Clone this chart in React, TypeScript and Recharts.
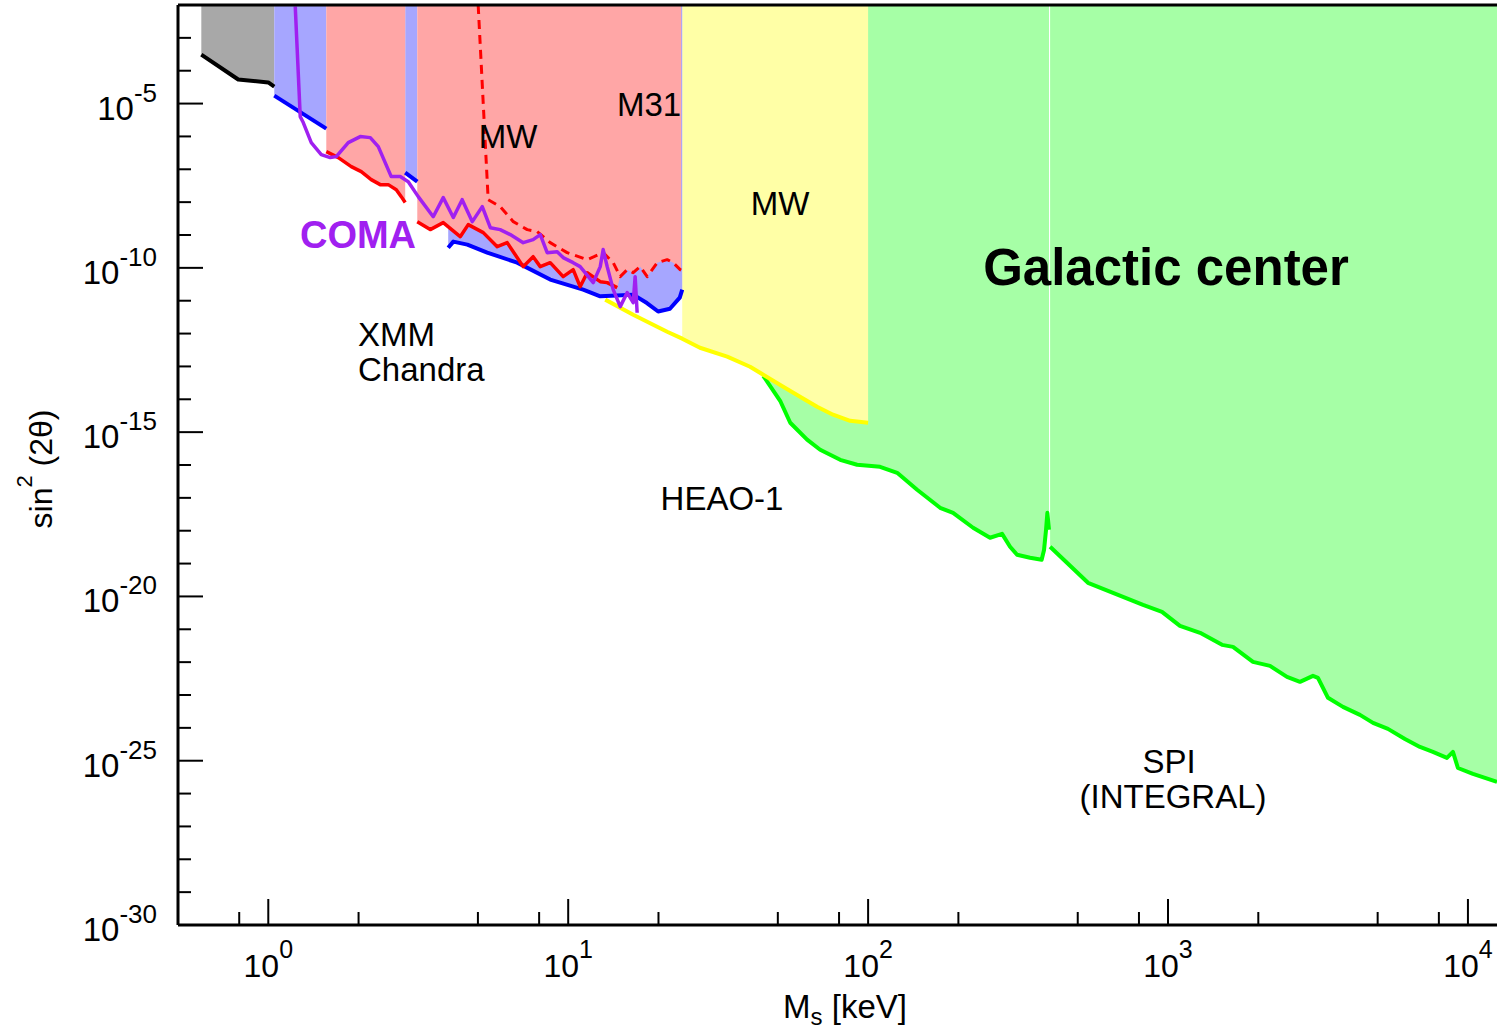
import React from 'react';
import { ComposedChart, Area, Line, XAxis, YAxis, ReferenceLine } from 'recharts';

const TOP = 1e-2;
const BOTTOM = 1e-30;
const X_MIN = 0.5;
const X_MAX = 12500;

const xTicks = [0.8, 1, 2, 5, 8, 10, 20, 50, 80, 100, 200, 500, 800, 1000, 2000, 5000, 8000, 10000];
const yTicks = [
  1e-30, 1e-29, 1e-28, 1e-27, 1e-26, 1e-25, 1e-24, 1e-23, 1e-22, 1e-21, 1e-20,
  1e-19, 1e-18, 1e-17, 1e-16, 1e-15, 1e-14, 1e-13, 1e-12, 1e-11, 1e-10,
  1e-9, 1e-8, 1e-7, 1e-6, 1e-5, 1e-4, 1e-3,
];

// boundary curves: [M_s in keV, sin^2(2theta)]
const blackEdge = [[0.598, 3.1e-4], [0.794, 5.4e-5], [1.0, 4.4e-5], [1.047, 3.3e-5]];
const blueEdge1 = [[1.047, 1.75e-5], [1.561, 1.73e-6]];
const redEdge1 = [
  [1.561, 3.45e-7], [1.712, 2.27e-7], [1.891, 1.21e-7], [2.042, 8.5e-8], [2.204, 4.85e-8],
  [2.362, 3.41e-8], [2.512, 3.41e-8], [2.672, 2.4e-8], [2.776, 1.47e-8], [2.861, 9.7e-9],
];
const blueEdge2 = [[2.861, 7.9e-8], [3.139, 4.2e-8]];
const redEdge2 = [
  [3.139, 2.55e-9], [3.467, 1.46e-9], [3.831, 2.38e-9], [4.365, 8.9e-10], [4.642, 2.07e-9],
  [5.21, 1.18e-9], [5.8, 4.42e-10], [6.26, 5.85e-10], [7.08, 1.09e-10], [7.64, 2.19e-10],
  [8.07, 1.09e-10], [8.71, 1.44e-10], [9.62, 5.4e-11], [10.39, 8.8e-11], [10.96, 2.67e-11],
  [11.57, 7.1e-11], [12.79, 3.8e-11], [13.49, 3.55e-11], [14.57, 2.5e-11],
];
const redDashed = [
  [5.01, 1e-2], [5.41, 1.19e-8], [5.93, 7.3e-9], [6.56, 2.55e-9], [7.3, 1.46e-9], [7.88, 1.27e-9],
  [8.71, 5.85e-10], [9.92, 2.9e-10], [11.57, 1.78e-10], [13.08, 2.9e-10], [14.13, 1.44e-10],
  [14.91, 5.4e-11], [15.73, 8.8e-11], [16.47, 7.1e-11], [17.38, 1.09e-10], [18.34, 5.4e-11],
  [19.81, 1.44e-10], [21.38, 1.78e-10], [22.39, 1.44e-10], [23.62, 8.8e-11], [23.8, 8.5e-11],
];
const blueEdge3 = [
  [3.98, 4.1e-10], [4.14, 6.3e-10], [4.61, 5.1e-10], [5.37, 2.9e-10], [6.76, 1.44e-10],
  [8.71, 4.4e-11], [11.22, 2.17e-11], [12.79, 1.36e-11], [16.47, 1.53e-11], [18.3, 8.5e-12],
  [19.95, 4.7e-12], [21.84, 5.7e-12], [23.55, 1.24e-11], [24.0, 2.17e-11],
];
const comaLine = [
  [1.23, 9e-3], [1.278, 4.0e-6], [1.308, 2.64e-6], [1.391, 6.5e-7], [1.502, 2.8e-7], [1.609, 2.27e-7],
  [1.685, 2.43e-7], [1.848, 6.5e-7], [2.026, 9.9e-7], [2.188, 9.2e-7], [2.327, 4.9e-7], [2.57, 6.0e-8],
  [2.754, 6.0e-8], [2.929, 4.2e-8], [3.162, 1.47e-8], [3.548, 3.6e-9], [3.831, 1.37e-8], [4.14, 3.4e-9],
  [4.43, 1.19e-8], [4.79, 2.55e-9], [5.17, 7.3e-9], [5.5, 1.67e-9], [5.93, 1.46e-9], [6.41, 1.03e-9],
  [7.08, 5.85e-10], [7.64, 7.2e-10], [8.07, 1.03e-9], [8.51, 2.9e-10], [9.19, 3.1e-10], [9.62, 2.05e-10],
  [10.39, 1.44e-10], [10.96, 1.09e-10], [12.12, 3.55e-11], [12.79, 1.09e-10], [13.08, 3.6e-10],
  [13.49, 1.09e-10], [14.13, 2.17e-11], [14.91, 6.6e-12], [15.73, 1.76e-11], [16.47, 8.7e-12],
  [16.72, 5.4e-11], [16.98, 4.3e-12],
];
const yellowEdge = [
  [13.29, 1.08e-11], [16.47, 3.76e-12], [21.38, 1.14e-12], [24.0, 7.0e-13], [27.5, 3.7e-13],
  [33.9, 1.98e-13], [40.4, 9.8e-14], [44.7, 5.6e-14], [52.1, 2.41e-14], [59.3, 1.2e-14],
  [67.6, 5.9e-15], [76.4, 3.4e-15], [87.1, 2.22e-15], [100, 1.93e-15],
];
const greenEdge1 = [
  [44.7, 5.2e-14], [50.9, 9.0e-15], [55.0, 1.93e-15], [62.6, 5.9e-16], [69.2, 2.91e-16],
  [80.7, 1.44e-16], [91.9, 1.02e-16], [109.6, 8.8e-17], [125, 5.8e-17], [145.7, 1.76e-17],
  [173.8, 4.99e-18], [192, 3.5e-18], [223.9, 1.23e-18], [255, 6.1e-19], [279.7, 8.0e-19],
  [297.4, 3.24e-19], [313.8, 1.85e-19], [346.7, 1.5e-19], [379, 1.3e-19], [386, 2.6e-19],
  [392, 1.07e-18], [396, 3.5e-18], [401, 1.07e-18],
];
const greenEdge2 = [
  [404.4, 3.24e-19], [541, 2.6e-20], [825.4, 5.5e-21], [955, 3.4e-21], [1096, 1.27e-21],
  [1279, 7.8e-22], [1514, 3.36e-22], [1647, 2.92e-22], [1920, 1.02e-22], [2188, 7.7e-23],
  [2493, 3.56e-23], [2754, 2.51e-23], [3043, 3.82e-23], [3162, 3.32e-23], [3415, 8.2e-24],
  [3831, 4.35e-24], [4365, 2.48e-24], [4825, 1.42e-24], [5412, 9.3e-25], [6166, 4.6e-25],
  [6918, 2.63e-25], [7643, 1.85e-25], [8511, 1.22e-25], [8913, 1.85e-25], [9261, 6.0e-26],
  [10390, 3.96e-26], [12500, 2.26e-26],
];

const FONT = "'Liberation Sans', Arial, Helvetica, sans-serif";

const band = (pts: number[][]) => pts.map(([x, y]) => ({ x, band: [y, TOP] }));
const line = (pts: number[][]) => pts.map(([x, y]) => ({ x, y }));

const pinkEdge2 = [...redEdge2, ...redDashed.filter((p) => p[0] > 14.6)];
const yellowBandEdge = yellowEdge.filter((p) => p[0] >= 24.0);

const YTick = (props: any) => {
  const { x, y, payload } = props;
  const e = Math.round(Math.log10(payload.value));
  const major = e % 5 === 0;
  return (
    <g>
      <line x1={x} x2={x + (major ? 25 : 13)} y1={y} y2={y} stroke="#000" strokeWidth={2} />
      {major && (
        <text x={x - 21} y={y + 16} textAnchor="end" fontSize={33} fontFamily={FONT} fill="#000">
          10
          <tspan dy={-18} fontSize={26}>{String(e)}</tspan>
        </text>
      )}
    </g>
  );
};

const XTick = (props: any) => {
  const { x, y, payload } = props;
  const l = Math.log10(payload.value);
  const e = Math.round(l);
  const major = Math.abs(l - e) < 1e-6;
  return (
    <g>
      <line x1={x} x2={x} y1={y} y2={y - (major ? 26 : 13)} stroke="#000" strokeWidth={2} />
      {major && (
        <text x={x} y={y + 52} textAnchor="middle" fontSize={32} fontFamily={FONT} fill="#000">
          10
          <tspan dy={-19} fontSize={25}>{String(e)}</tspan>
        </text>
      )}
    </g>
  );
};

const Labels = () => (
  <svg
    width={1498}
    height={1032}
    style={{ position: 'absolute', left: 0, top: 0, pointerEvents: 'none', overflow: 'visible' }}
  >
    <g fontFamily={FONT} fill="#000">
      <text x={508} y={148} fontSize={33} textAnchor="middle">MW</text>
      <text x={649} y={116} fontSize={33} textAnchor="middle">M31</text>
      <text x={780} y={215} fontSize={33} textAnchor="middle">MW</text>
      <text x={358} y={346} fontSize={33}>XMM</text>
      <text x={358} y={381} fontSize={33}>Chandra</text>
      <text x={358} y={248} fontSize={38} fontWeight="bold" fill="#a020f0" textAnchor="middle">COMA</text>
      <text x={722} y={510} fontSize={33} textAnchor="middle">HEAO-1</text>
      <text x={1169} y={773} fontSize={33} textAnchor="middle">SPI</text>
      <text x={1173} y={808} fontSize={33} textAnchor="middle">(INTEGRAL)</text>
      <text x={1166} y={285} fontSize={51} fontWeight="bold" textAnchor="middle">Galactic center</text>
      <text x={845} y={1018} fontSize={33} textAnchor="middle">
        M<tspan dy={7} fontSize={24}>s</tspan><tspan dy={-7}> [keV]</tspan>
      </text>
      <text transform="translate(52,469) rotate(-90)" fontSize={32} textAnchor="middle">
        sin<tspan dy={-20} fontSize={22}>2</tspan><tspan dy={20}> (2θ)</tspan>
      </text>
    </g>
  </svg>
);

const areaProps = {
  type: 'linear' as const,
  dataKey: 'band',
  stroke: 'none',
  fillOpacity: 1,
  isAnimationActive: false,
  dot: false,
  activeDot: false,
};
const lineProps = {
  type: 'linear' as const,
  dataKey: 'y',
  dot: false,
  activeDot: false,
  isAnimationActive: false,
  strokeLinejoin: 'round' as const,
};

export default function App() {
  return (
    <div style={{ position: 'absolute', left: 0, top: 0, width: 1498, height: 1032, background: '#fff' }}>
      <ComposedChart width={1498} height={1032} margin={{ top: 5, right: 1, bottom: 0, left: 0 }}>
        <XAxis
          dataKey="x"
          type="number"
          scale="log"
          domain={[X_MIN, X_MAX]}
          ticks={xTicks}
          interval={0}
          tick={(p: any) => <XTick {...p} />}
          tickLine={false}
          tickSize={0}
          tickMargin={0}
          axisLine={{ stroke: '#000', strokeWidth: 3 }}
          height={107}
          allowDataOverflow
        />
        <YAxis
          type="number"
          scale="log"
          domain={[BOTTOM, TOP]}
          ticks={yTicks}
          interval={0}
          tick={(p: any) => <YTick {...p} />}
          tickLine={false}
          tickSize={0}
          tickMargin={0}
          axisLine={{ stroke: '#000', strokeWidth: 3 }}
          width={178}
          allowDataOverflow
        />
        <Area {...areaProps} data={band(greenEdge1)} fill="#a6ffa6" />
        <Area {...areaProps} data={band(greenEdge2)} fill="#a6ffa6" />
        <Area {...areaProps} data={band(yellowBandEdge)} fill="#ffffa6" />
        <Area {...areaProps} data={band(blackEdge)} fill="#a8a8a8" />
        <Area {...areaProps} data={band(blueEdge1)} fill="#a6a6ff" />
        <Area {...areaProps} data={band(blueEdge2)} fill="#a6a6ff" />
        <Area {...areaProps} data={band(blueEdge3)} fill="#a6a6ff" />
        <Area {...areaProps} data={band(redEdge1)} fill="#ffa6a6" />
        <Area {...areaProps} data={band(pinkEdge2)} fill="#ffa6a6" />
        <Line {...lineProps} data={line(greenEdge1)} stroke="#00ff00" strokeWidth={4} />
        <Line {...lineProps} data={line(greenEdge2)} stroke="#00ff00" strokeWidth={4} />
        <Line {...lineProps} data={line(yellowEdge)} stroke="#ffff00" strokeWidth={4} />
        <Line {...lineProps} data={line(blackEdge)} stroke="#000000" strokeWidth={4} />
        <Line {...lineProps} data={line(blueEdge1)} stroke="#0000ff" strokeWidth={4} />
        <Line {...lineProps} data={line(blueEdge2)} stroke="#0000ff" strokeWidth={4} />
        <Line {...lineProps} data={line(blueEdge3)} stroke="#0000ff" strokeWidth={4} />
        <Line {...lineProps} data={line(redEdge1)} stroke="#ff0000" strokeWidth={3.5} />
        <Line {...lineProps} data={line(redEdge2)} stroke="#ff0000" strokeWidth={3.5} />
        <Line {...lineProps} data={line(redDashed)} stroke="#ff0000" strokeWidth={3} strokeDasharray="9 6" />
        <Line {...lineProps} data={line(comaLine)} stroke="#a020f0" strokeWidth={3.5} />
        <ReferenceLine y={TOP} stroke="#000" strokeWidth={3} />
      </ComposedChart>
      <Labels />
    </div>
  );
}
